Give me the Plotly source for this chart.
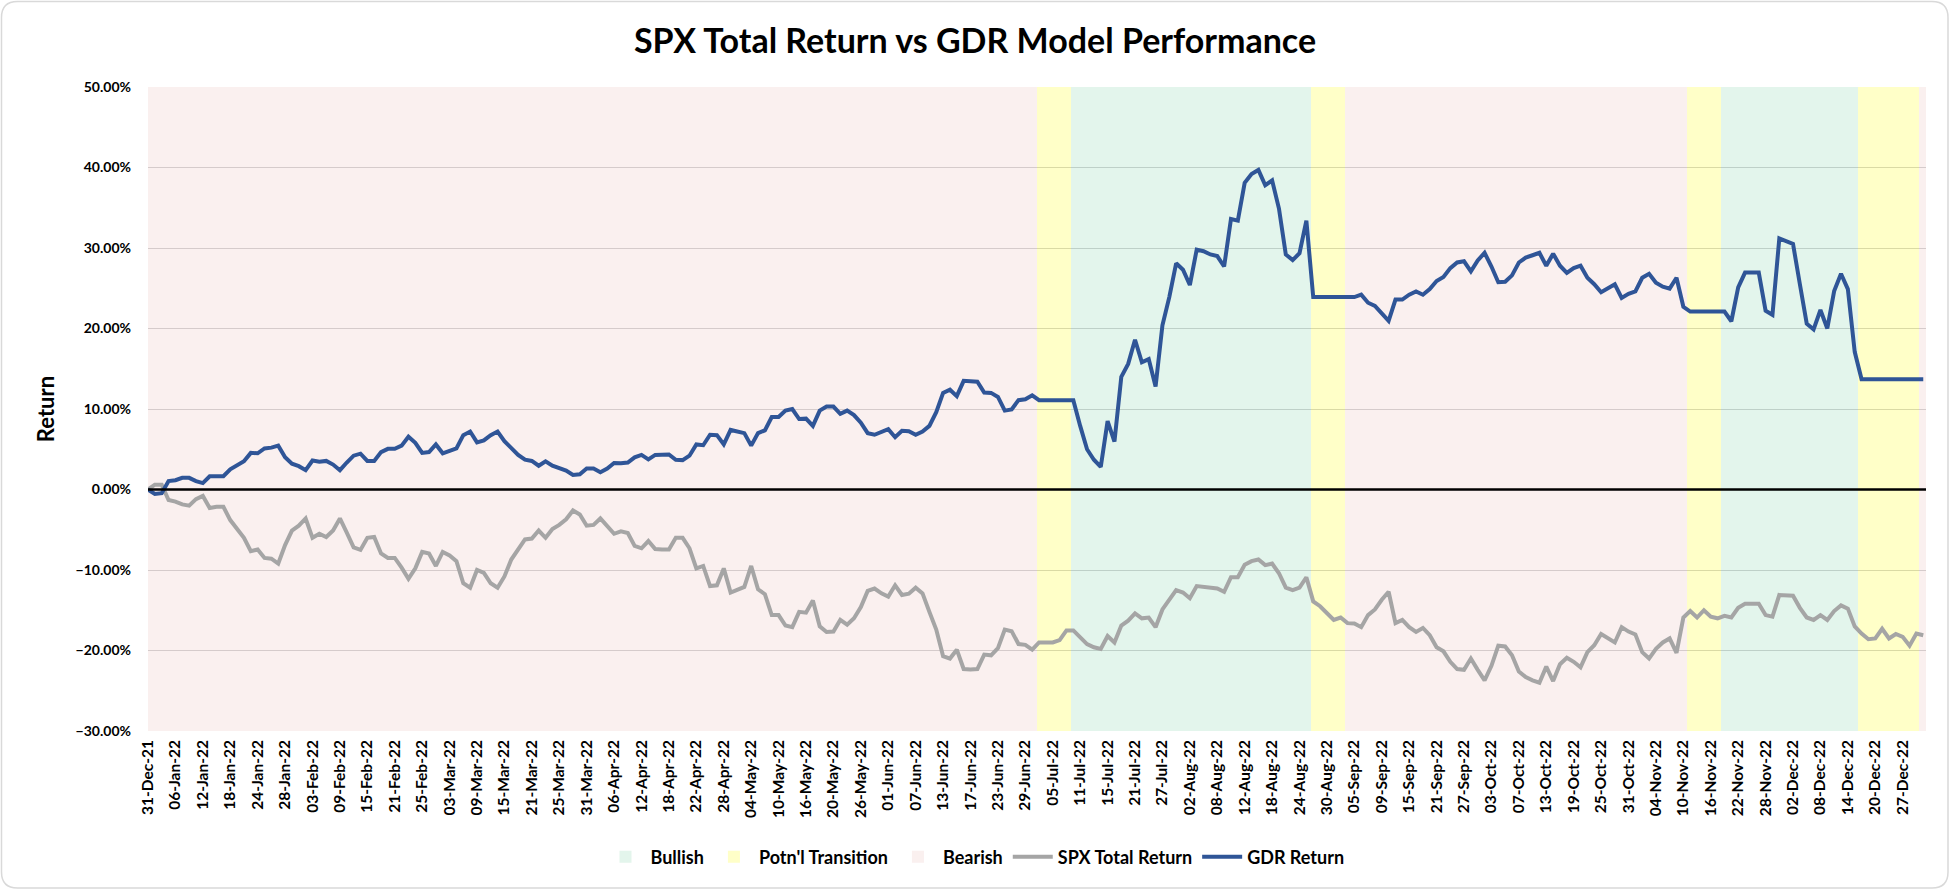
import pandas as pd
import plotly.graph_objects as go

W, H = 1950, 890
ML, MR, MT, MB = 148, 24, 87, 159
PW, PH = W - ML - MR, H - MT - MB
FONT = "Lato"

# ---- categories (trading days shown on the chart) ----
dates = pd.bdate_range("2021-12-31", "2022-12-30")
dates = dates[dates != pd.Timestamp("2022-12-26")]
date_labels = [d.strftime("%d-%b-%y") for d in dates]

# ---- regime (background band) runs: (regime, number of days) ----
regime_runs = [
    ("Bearish", 130), ("Potn'l Transition", 5), ("Bullish", 35),
    ("Potn'l Transition", 5), ("Bearish", 50), ("Potn'l Transition", 5),
    ("Bullish", 20), ("Potn'l Transition", 9), ("Bearish", 1),
]

# ---- series values (percent) ----
gdr_return = [
    0.0, -0.55, -0.45, 1.05, 1.15, 1.45, 1.45, 1.05, 0.8, 1.65,
    1.65, 1.65, 2.5, 3.0, 3.5, 4.55, 4.5, 5.1, 5.2, 5.45,
    4.0, 3.2, 2.9, 2.4, 3.6, 3.45, 3.55, 3.1, 2.4, 3.35,
    4.2, 4.45, 3.55, 3.55, 4.65, 5.05, 5.05, 5.45, 6.55, 5.8,
    4.55, 4.65, 5.6, 4.5, 4.8, 5.1, 6.75, 7.2, 5.85, 6.1,
    6.75, 7.2, 6.0, 5.1, 4.3, 3.7, 3.55, 2.95, 3.5, 2.95,
    2.65, 2.35, 1.8, 1.9, 2.6, 2.6, 2.15, 2.6, 3.3, 3.25,
    3.35, 4.0, 4.3, 3.75, 4.3, 4.35, 4.35, 3.7, 3.65, 4.2,
    5.6, 5.5, 6.8, 6.75, 5.6, 7.4, 7.2, 7.0, 5.45, 7.0,
    7.35, 9.0, 9.0, 9.8, 10.0, 8.75, 8.8, 7.9, 9.8, 10.3,
    10.3, 9.4, 9.8, 9.25, 8.3, 7.0, 6.8, 7.1, 7.5, 6.5,
    7.3, 7.25, 6.8, 7.2, 7.9, 9.6, 12.0, 12.4, 11.6, 13.5,
    13.45, 13.4, 12.05, 12.0, 11.5, 9.8, 9.95, 11.1, 11.2, 11.7,
    11.1, 11.1, 11.1, 11.1, 11.1, 11.1, 7.9, 5.0, 3.7, 2.8,
    8.5, 5.95, 14.0, 15.6, 18.6, 15.8, 16.2, 12.8, 20.4, 23.9,
    28.1, 27.3, 25.4, 29.8, 29.6, 29.2, 29.0, 27.7, 33.6, 33.4,
    38.1, 39.2, 39.7, 37.8, 38.4, 34.9, 29.2, 28.5, 29.35, 33.4,
    23.9, 23.9, 23.9, 23.9, 23.9, 23.9, 23.9, 24.2, 23.2, 22.8,
    21.9, 20.95, 23.6, 23.6, 24.2, 24.6, 24.2, 24.9, 25.9, 26.4,
    27.5, 28.2, 28.35, 27.1, 28.45, 29.4, 27.7, 25.75, 25.8, 26.6,
    28.2, 28.8, 29.1, 29.4, 27.8, 29.3, 27.8, 26.9, 27.5, 27.8,
    26.3, 25.5, 24.5, 25.0, 25.5, 23.8, 24.3, 24.6, 26.3, 26.8,
    25.7, 25.2, 24.95, 26.3, 22.7, 22.1, 22.1, 22.1, 22.1, 22.1,
    22.1, 20.9, 25.1, 26.95, 26.95, 26.95, 22.2, 21.7, 31.2, 30.9,
    30.5, 25.5, 20.6, 19.9, 22.3, 20.0, 24.65, 26.8, 24.9, 17.1,
    13.7, 13.7, 13.7, 13.7, 13.7, 13.7, 13.7, 13.7, 13.7, 13.7,
]

spx_total_return = [
    0.0, 0.6, 0.6, -1.3, -1.5, -1.85, -2.0, -1.2, -0.8, -2.3,
    -2.15, -2.15, -3.8, -4.9, -6.0, -7.65, -7.45, -8.5, -8.6, -9.2,
    -6.9, -5.1, -4.5, -3.6, -6.0, -5.5, -5.9, -5.1, -3.6, -5.35,
    -7.2, -7.5, -6.0, -5.9, -7.95, -8.5, -8.5, -9.7, -11.1, -9.8,
    -7.75, -7.95, -9.5, -7.75, -8.2, -8.9, -11.65, -12.2, -10.0, -10.35,
    -11.65, -12.2, -10.8, -8.7, -7.4, -6.2, -6.1, -5.1, -6.0, -4.9,
    -4.4, -3.7, -2.6, -3.1, -4.5, -4.4, -3.6, -4.6, -5.5, -5.2,
    -5.4, -7.0, -7.3, -6.4, -7.4, -7.45, -7.45, -6.0, -6.0, -7.3,
    -9.8, -9.5, -12.0, -11.9, -9.8, -12.8, -12.5, -12.1, -9.5, -12.4,
    -13.0, -15.6, -15.6, -16.9, -17.1, -15.2, -15.3, -13.8, -17.0, -17.7,
    -17.65, -16.2, -16.8, -16.0, -14.6, -12.6, -12.3, -12.9, -13.3, -11.9,
    -13.1, -12.95, -12.2, -12.9, -15.2, -17.4, -20.7, -21.0, -19.9, -22.3,
    -22.35, -22.3, -20.5, -20.6, -19.7, -17.4, -17.6, -19.2, -19.3, -19.9,
    -19.0, -19.0, -19.0, -18.7, -17.5, -17.5, -18.4, -19.2, -19.6, -19.8,
    -18.2, -19.0, -16.9, -16.3, -15.4, -16.0, -15.9, -17.1, -14.9, -13.8,
    -12.5, -12.8, -13.5, -12.0, -12.1, -12.2, -12.3, -12.7, -10.9, -10.9,
    -9.35, -8.9, -8.7, -9.4, -9.2, -10.4, -12.2, -12.5, -12.2, -10.9,
    -13.9, -14.5, -15.4, -16.2, -15.9, -16.6, -16.65, -17.1, -15.6, -14.9,
    -13.7, -12.7, -16.6, -16.2, -17.1, -17.7, -17.2, -18.1, -19.6, -20.1,
    -21.4, -22.3, -22.4, -21.0, -22.4, -23.7, -21.9, -19.4, -19.5, -20.6,
    -22.6, -23.3, -23.7, -24.0, -22.0, -23.8, -21.7, -20.9, -21.4, -22.1,
    -20.2, -19.35, -17.95, -18.5, -19.0, -17.1, -17.65, -18.0, -20.2, -21.0,
    -19.8, -19.0, -18.5, -20.3, -15.9, -15.1, -15.9, -15.0, -15.8, -16.0,
    -15.7, -15.9, -14.7, -14.2, -14.2, -14.2, -15.6, -15.8, -13.1, -13.1,
    -13.2, -14.7, -15.9, -16.2, -15.6, -16.2, -15.1, -14.4, -14.8, -17.0,
    -17.9, -18.6, -18.5, -17.3, -18.5, -17.95, -18.3, -19.4, -17.9, -18.1,
]

regimes = []
for name, n in regime_runs:
    regimes += [name] * n

n_days = len(dates)
assert len(regimes) == n_days and len(gdr_return) == n_days and len(spx_total_return) == n_days
idx = list(range(n_days))

Y_MIN, Y_MAX = -30, 50

band_colors = {
    "Bullish": "rgba(199,235,217,0.5)",
    "Potn'l Transition": "rgba(255,255,145,0.5)",
    "Bearish": "rgba(245,226,224,0.5)",
}

fig = go.Figure()
for name in ["Bullish", "Potn'l Transition", "Bearish"]:
    fig.add_trace(go.Bar(
        x=idx,
        y=[(Y_MAX - Y_MIN) if r == name else None for r in regimes],
        base=Y_MIN,
        width=1,
        name=name,
        marker=dict(color=band_colors[name], line=dict(width=0)),
        xaxis="x", yaxis="y",
        hoverinfo="skip",
    ))

fig.add_trace(go.Scatter(
    x=idx, y=spx_total_return, mode="lines", name="SPX Total Return",
    line=dict(color="#A5A5A5", width=4), xaxis="x2", yaxis="y",
))
fig.add_trace(go.Scatter(
    x=idx, y=gdr_return, mode="lines", name="GDR Return",
    line=dict(color="#2F5597", width=4), xaxis="x2", yaxis="y",
))

# rounded outer border (paper coords)
def px2x(px):
    return (px - ML) / PW

def py2y(py):
    return 1 - (py - MT) / PH

x0, x1, y0, y1, r = 1.5, W - 2, 1.5, H - 2, 16
path = (
    f"M {px2x(x0 + r)},{py2y(y0)} L {px2x(x1 - r)},{py2y(y0)} "
    f"Q {px2x(x1)},{py2y(y0)} {px2x(x1)},{py2y(y0 + r)} "
    f"L {px2x(x1)},{py2y(y1 - r)} Q {px2x(x1)},{py2y(y1)} {px2x(x1 - r)},{py2y(y1)} "
    f"L {px2x(x0 + r)},{py2y(y1)} Q {px2x(x0)},{py2y(y1)} {px2x(x0)},{py2y(y1 - r)} "
    f"L {px2x(x0)},{py2y(y0 + r)} Q {px2x(x0)},{py2y(y0)} {px2x(x0 + r)},{py2y(y0)} Z"
)

fig.update_layout(
    width=W, height=H,
    margin=dict(l=ML, r=MR, t=MT, b=MB, pad=0, autoexpand=False),
    paper_bgcolor="white", plot_bgcolor="white",
    barmode="overlay", bargap=0,
    font=dict(family=FONT, color="#000000"),
    title=dict(
        text="SPX Total Return vs GDR Model Performance",
        x=0.5, xref="container", xanchor="center",
        y=1 - 41 / H, yref="container", yanchor="middle",
        font=dict(family=FONT, size=34, weight="bold", color="#000000"),
    ),
    xaxis=dict(
        range=[-0.5, n_days - 0.5], visible=False, showgrid=False, zeroline=False,
    ),
    xaxis2=dict(
        overlaying="x", anchor="y", side="bottom",
        range=[0, n_days - 0.6],
        tickmode="array", tickvals=idx[::4], ticktext=date_labels[::4],
        tickangle=-90, ticks="", showgrid=False, zeroline=False, showline=False,
        tickfont=dict(family=FONT, size=15.5, weight="bold", color="#000000"),
        ticklabelstandoff=5, automargin=False,
    ),
    yaxis=dict(
        range=[Y_MIN, Y_MAX], dtick=10, tick0=0,
        tickformat=".2f", ticksuffix="%",
        showgrid=True, gridcolor="rgb(181,181,183)", gridwidth=1.3,
        zeroline=False, showline=False, ticks="",
        tickfont=dict(family=FONT, size=14, weight="bold", color="#000000"),
        ticklabelstandoff=16, automargin=False,
        title=dict(text="Return", standoff=14,
                   font=dict(family=FONT, size=22, weight="bold", color="#000000")),
    ),
    legend=dict(
        orientation="h", x=(W / 2 - ML) / PW, xref="paper", xanchor="center",
        y=-(857 - (H - MB)) / PH, yanchor="middle",
        font=dict(family=FONT, size=18, weight="bold", color="#000000"),
        itemwidth=40, traceorder="normal",
    ),
    shapes=[
        dict(type="line", xref="paper", yref="y", x0=0, x1=1, y0=0, y1=0,
             line=dict(color="#000000", width=2.5), layer="above"),
        dict(type="path", xref="paper", yref="paper", path=path,
             line=dict(color="#D9D9D9", width=1.5), layer="below"),
    ],
    showlegend=True,
)

fig.write_html(
    "out.html",
    config={"displayModeBar": False},
    post_script="document.body.style.margin='0';document.body.style.overflow='hidden';",
)
